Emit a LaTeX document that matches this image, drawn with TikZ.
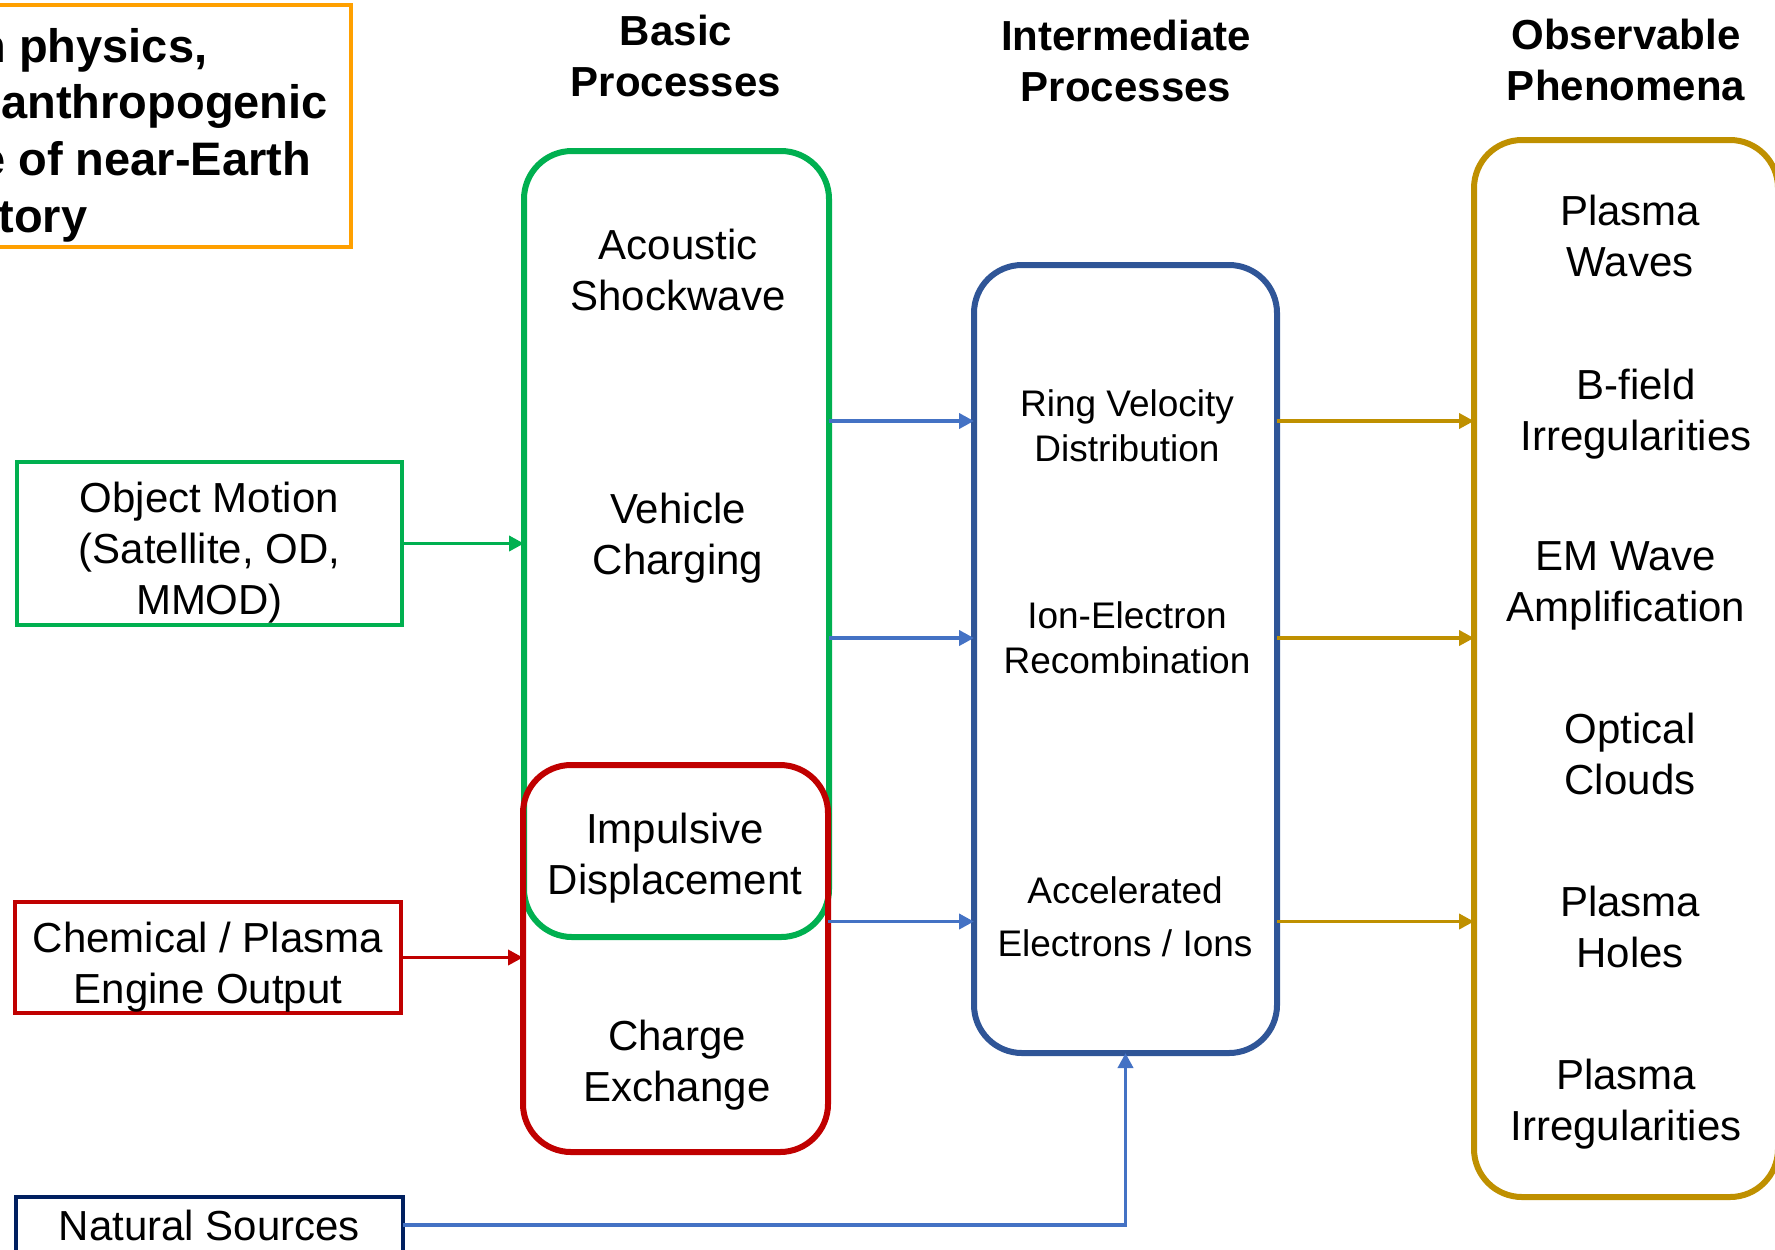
\documentclass[tikz,border=0pt]{standalone}
\usepackage{fontspec}
\setmainfont{Liberation Sans}
\usetikzlibrary{arrows.meta}

\definecolor{grnbox}{RGB}{0,176,80}
\definecolor{redbox}{RGB}{192,0,0}
\definecolor{bluebox}{RGB}{47,85,151}
\definecolor{goldbox}{RGB}{191,144,0}
\definecolor{navybox}{RGB}{0,32,96}
\definecolor{orangebox}{RGB}{255,160,0}
\definecolor{arrowblue}{RGB}{68,114,196}

\tikzset{
	bigbox/.style={draw, line width=3pt, rounded corners=24pt, inner sep=0pt, outer sep=0pt, anchor=north west},
	srcbox/.style={draw, line width=1.75pt, inner sep=0pt, outer sep=0pt},
	txt/.style={align=center, font=\fontsize{21}{25.5}\selectfont},
	smalltxt/.style={align=center, font=\fontsize{18.5}{22.5}\selectfont},
	head/.style={align=center, font=\bfseries\fontsize{21}{25.5}\selectfont},
	titletxt/.style={anchor=base west, inner sep=0pt, font=\bfseries\fontsize{23.5}{28.5}\selectfont},
	link/.style={line width=1.9pt, -{Triangle[length=7.5pt,width=7.5pt]}},
}

\begin{document}
\begin{tikzpicture}[x=0.5pt,y=0.5pt,yscale=-1,xscale=1]
	\useasboundingbox (0,0) rectangle (1775,1249);
	\clip (0,0) rectangle (1775,1249);
	
	%Shape: Rectangle [title box, cut at the left]
	\draw [color=orangebox, line width=2pt] (-40,5) rectangle (351,247);
	% Text Node
	\node [titletxt] (title1) at (-23,62) {n physics,};
	\node [titletxt] (title2) at (1,118) {anthropogenic};
	\node [titletxt] (title3) at (-21,175) {e of near-Earth};
	\node [titletxt] (title4) at (-2,232) {tory};
	
	% Headings
	\node [head] (hbasic) at (676,56) {Basic\\Processes};
	\node [head] (hinter) at (1126,61) {Intermediate\\Processes};
	\node [head] (hobs) at (1626,60) {Observable\\Phenomena};
	
	%Shape: Rounded Rect [basic processes]
	\node [bigbox, color=grnbox, minimum width=152.5pt, minimum height=393pt] (basic) at (524,151) {};
	%Shape: Rounded Rect [engine processes]
	\node [bigbox, color=redbox, minimum width=152.5pt, minimum height=193.5pt] (engine) at (523,765) {};
	%Shape: Rounded Rect [intermediate processes]
	\node [bigbox, color=bluebox, minimum width=151.5pt, minimum height=394pt] (inter) at (974,265) {};
	%Shape: Rounded Rect [observable phenomena]
	\node [bigbox, color=goldbox, minimum width=152pt, minimum height=528.5pt] (obs) at (1474,140) {};
	
	% Text Node
	\node [txt] (shock) at (678,270) {Acoustic\\Shockwave};
	\node [txt] (charging) at (678,538) {Vehicle\\Charging};
	\node [txt] (impulse) at (675,858) {Impulsive\\Displacement};
	\node [txt] (exchange) at (677,1065) {Charge\\Exchange};
	
	\node [smalltxt] (ring) at (1127,426) {Ring Velocity\\Distribution};
	\node [smalltxt] (recomb) at (1127,638) {Ion-Electron\\Recombination};
	\node [smalltxt, font=\fontsize{18.5}{26.5}\selectfont] (accel) at (1125,917) {Accelerated\\Electrons / Ions};
	
	\node [txt] (waves) at (1630,236) {Plasma\\Waves};
	\node [txt] (bfield) at (1636,414) {B-field\\Irregularities};
	\node [txt] (emwave) at (1626,586) {EM Wave\\Amplification};
	\node [txt] (optical) at (1630,754) {Optical\\Clouds};
	\node [txt] (holes) at (1630,927) {Plasma\\Holes};
	\node [txt] (irreg) at (1626,1104) {Plasma\\Irregularities};
	
	% Sources
	\node [srcbox, color=grnbox, minimum width=192.5pt, minimum height=81.5pt] (motion) at (209.5,543.5) {};
	\node [txt] (motiontxt) at (209.5,553) {Object Motion\\(Satellite, OD,\\MMOD)};
	\node [srcbox, color=redbox, minimum width=193pt, minimum height=55.5pt] (chem) at (208,957.5) {};
	\node [txt] (chemtxt) at (208,967) {Chemical / Plasma\\Engine Output};
	\node [srcbox, color=navybox, minimum width=193.5pt, minimum height=28pt] (natural) at (209.5,1225) {};
	\node [txt] (naturaltxt) at (209.5,1225) {Natural Sources};
	
	% arrow heights
	\coordinate (ringrow) at ([yshift=-2.5pt]ring.center);
	\coordinate (recombrow) at (recomb.center);
	\coordinate (accelrow) at ([yshift=2.25pt]accel.center);
	
	% Arrows
	\draw [link, color=grnbox] (motion.east) -- (motion.east -| basic.west);
	\draw [link, color=redbox] (chem.east) -- (chem.east -| engine.west);
	\draw [link, color=arrowblue] (ringrow -| basic.east) -- (ringrow -| inter.west);
	\draw [link, color=arrowblue] (recombrow -| basic.east) -- (recombrow -| inter.west);
	\draw [link, color=arrowblue] (accelrow -| engine.east) -- (accelrow -| inter.west);
	\draw [link, color=goldbox] (ringrow -| inter.east) -- (ringrow -| obs.west);
	\draw [link, color=goldbox] (recombrow -| inter.east) -- (recombrow -| obs.west);
	\draw [link, color=goldbox] (accelrow -| inter.east) -- (accelrow -| obs.west);
	\draw [link, color=arrowblue] (natural.east) -- (natural.east -| inter.south) -- (inter.south);
	
\end{tikzpicture}
\end{document}
